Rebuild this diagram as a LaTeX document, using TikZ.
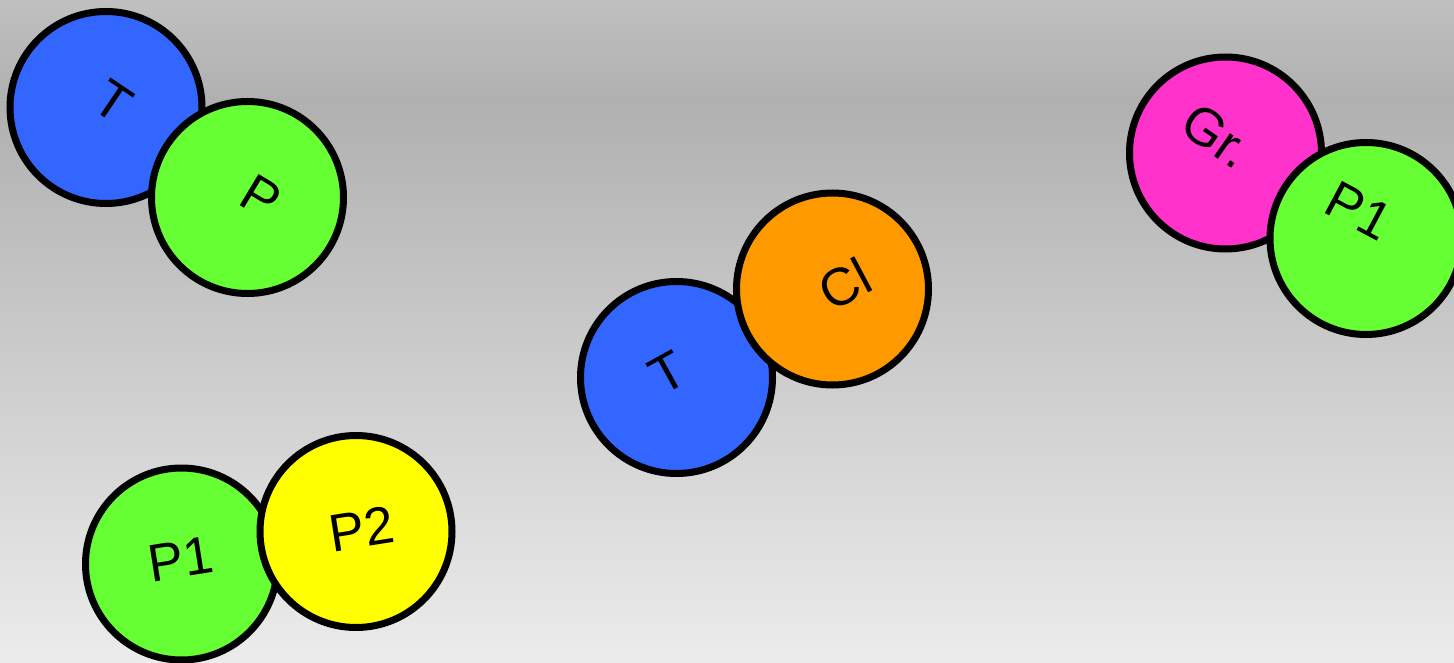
\documentclass[tikz,border=0pt]{standalone}
\usepackage{fontspec}
\setmainfont{Liberation Sans}
\definecolor{cblue}{HTML}{3366FF}
\definecolor{cgreen}{HTML}{66FF33}
\definecolor{corange}{HTML}{FF9900}
\definecolor{cpink}{HTML}{FF33CC}
\definecolor{cyellow}{HTML}{FFFF00}
\definecolor{bgtop}{HTML}{C0C0C0}
\definecolor{bgmid}{HTML}{B0B0B0}
\definecolor{bgbot}{HTML}{ECECEC}
\begin{document}
\begin{tikzpicture}[x=1pt,y=-1pt,
  ball/.style={circle,draw=black,line width=7pt,minimum size=192pt,inner sep=0pt},
  lbl/.style={inner sep=0pt,font=\fontsize{53}{53}\selectfont}]
\useasboundingbox (0,0) rectangle (1454,663);
\shade[top color=bgtop,bottom color=bgmid] (0,0) rectangle (1454,100);
\shade[top color=bgmid,bottom color=bgbot] (0,100) rectangle (1454,663);
% pair 1
\node[ball,fill=cblue] (t1) at (106,107.5) {};
\node[lbl,rotate=-34] (t1l) at (113,101) {T};
\node[ball,fill=cgreen] (p) at (247.5,197.5) {};
\node[lbl,rotate=-31] (pl) at (261,197) {P};
% pair 2
\node[ball,fill=cblue] (t2) at (676.5,377.5) {};
\node[lbl,rotate=29] (t2l) at (668,373) {T};
\node[ball,fill=corange] (cl) at (832.5,289) {};
\node[lbl,rotate=28] (cll) at (845,284) {Cl};
% pair 3
\node[ball,fill=cpink] (gr) at (1225.5,153) {};
\node[lbl,rotate=-35] (grl) at (1217,136) {Gr.};
\node[ball,fill=cgreen] (p1a) at (1366,238.5) {};
\node[lbl,rotate=-28] (p1al) at (1359,211) {P1};
% pair 4
\node[ball,fill=cgreen] (p1b) at (181.5,564) {};
\node[lbl,rotate=9] (p1bl) at (181,559) {P1};
\node[ball,fill=cyellow] (p2) at (356,531.5) {};
\node[lbl,rotate=9] (p2l) at (362,529) {P2};
\end{tikzpicture}
\end{document}
